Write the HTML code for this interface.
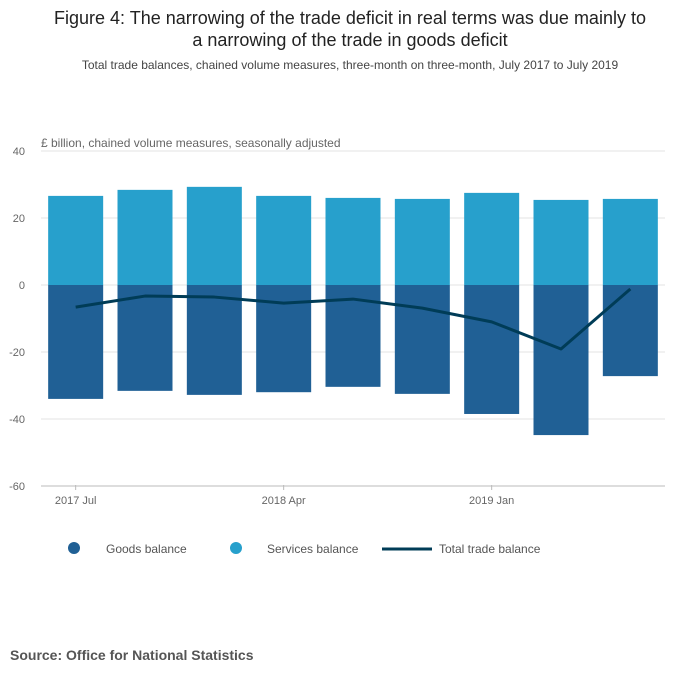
<!DOCTYPE html>
<html><head><meta charset="utf-8"><style>
body{margin:0;background:#fff;font-family:"Liberation Sans",sans-serif;}
svg text{font-family:"Liberation Sans",sans-serif;}
</style></head><body>
<svg width="700" height="682" xmlns="http://www.w3.org/2000/svg">
<text x="350" y="24" text-anchor="middle" font-size="18" fill="#222">Figure 4: The narrowing of the trade deficit in real terms was due mainly to</text>
<text x="350" y="46" text-anchor="middle" font-size="18" fill="#222">a narrowing of the trade in goods deficit</text>
<text x="350" y="69" text-anchor="middle" font-size="12" fill="#444">Total trade balances, chained volume measures, three-month on three-month, July 2017 to July 2019</text>
<text x="41" y="147" font-size="12" fill="#666">£ billion, chained volume measures, seasonally adjusted</text>
<g id="grid"></g><g id="bars"></g><g id="line"></g><g id="axes"></g>
<g>
<circle cx="74" cy="548" r="6" fill="#206095"/>
<text x="106" y="553" font-size="12" fill="#555">Goods balance</text>
<circle cx="236" cy="548" r="6" fill="#27a0cc"/>
<text x="267" y="553" font-size="12" fill="#555">Services balance</text>
<line x1="382" y1="549" x2="432" y2="549" stroke="#003c57" stroke-width="3"/>
<text x="439" y="553" font-size="12" fill="#555">Total trade balance</text>
</g>
<text x="10" y="660" font-size="14" font-weight="bold" fill="#555">Source: Office for National Statistics</text>
</svg>
<script>
const categories=["2017 Jul","2017 Oct","2018 Jan","2018 Apr","2018 Jul","2018 Oct","2019 Jan","2019 Apr","2019 Jul"];
const services=[26.6,28.4,29.3,26.6,26.0,25.7,27.5,25.4,25.7];
const goods=[-34.0,-31.6,-32.8,-32.0,-30.4,-32.5,-38.5,-44.8,-27.2];
const total=[-6.6,-3.3,-3.6,-5.4,-4.2,-6.9,-11.0,-19.1,-1.2];
const yTicks=[40,20,0,-20,-40,-60];
const xTickLabels={0:"2017 Jul",3:"2018 Apr",6:"2019 Jan"};
const NS="http://www.w3.org/2000/svg";
const L=41,R=665,band=(R-L)/categories.length,bw=55;
const y=v=>285-v*3.35;
const xc=i=>L+band*(i+0.5);
function mk(t,a,p){const e=document.createElementNS(NS,t);for(const k in a)e.setAttribute(k,a[k]);document.getElementById(p).appendChild(e);return e;}
yTicks.forEach(t=>{
 const g=mk("line",{x1:L,x2:R,y1:y(t),y2:y(t),stroke:t===-60?"#bbb":"#e3e3e3","stroke-width":1},"grid");
 
 
 const tx=mk("text",{x:25,y:y(t)+4,"text-anchor":"end","font-size":11,fill:"#666"},"axes");
 tx.textContent=t;
 
 
});
categories.forEach((c,i)=>{
 const s=mk("rect",{x:xc(i)-bw/2,y:y(services[i]),width:bw,height:y(0)-y(services[i]),fill:"#27a0cc"},"bars");
 
 
 const g=mk("rect",{x:xc(i)-bw/2,y:y(0),width:bw,height:y(goods[i])-y(0),fill:"#206095"},"bars");
 
 
 if(xTickLabels[i]){
  const tk=mk("line",{x1:xc(i),x2:xc(i),y1:485,y2:490,stroke:"#bbb"},"axes");
  
  
  const tx=mk("text",{x:xc(i),y:504,"text-anchor":"middle","font-size":11,fill:"#666"},"axes");
  tx.textContent=xTickLabels[i];
  
  
 }
});
const p=mk("polyline",{points:total.map((v,i)=>xc(i)+","+y(v)).join(" "),fill:"none",stroke:"#003c57","stroke-width":3,"stroke-linejoin":"round"},"line");


</script>
</body></html>
